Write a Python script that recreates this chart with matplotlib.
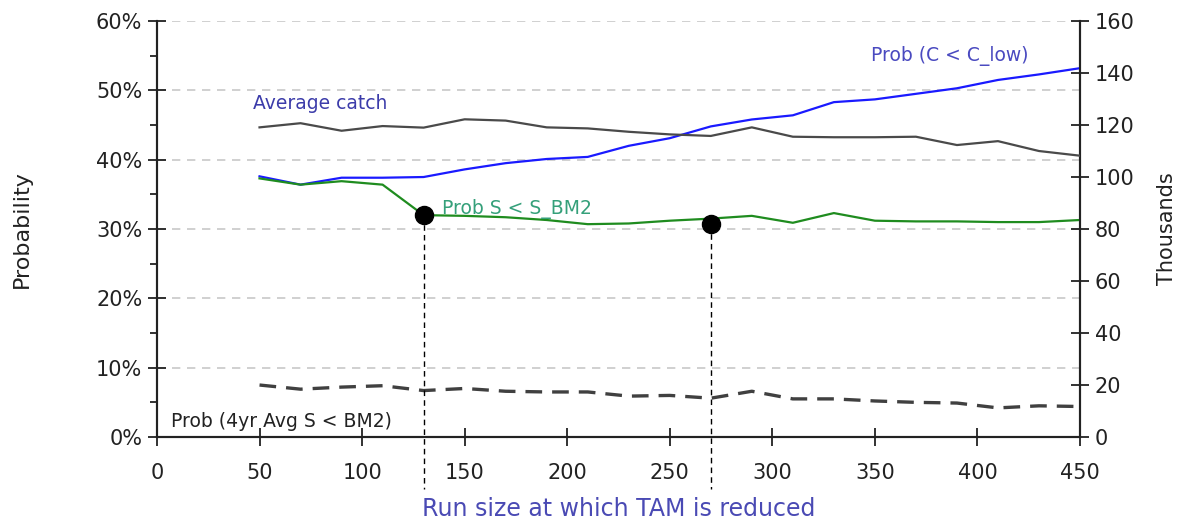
import numpy as np
import matplotlib
matplotlib.use("Agg")
import matplotlib.pyplot as plt
from matplotlib.ticker import PercentFormatter, MultipleLocator

plt.rcParams['font.family'] = ['DejaVu Sans']

# run size thresholds (x axis)
run_size = [50, 70, 90, 110, 130, 150, 170, 190, 210, 230, 250,
            270, 290, 310, 330, 350, 370, 390, 410, 430, 450]

# probabilities (left axis, fraction)
prob_c_low = [0.376, 0.364, 0.374, 0.374, 0.375, 0.386, 0.395, 0.401, 0.404, 0.420, 0.431,
              0.448, 0.458, 0.464, 0.483, 0.487, 0.495, 0.503, 0.515, 0.523, 0.532]
prob_s_bm2 = [0.373, 0.364, 0.369, 0.364, 0.320, 0.319, 0.317, 0.313, 0.307, 0.308, 0.312,
              0.315, 0.319, 0.309, 0.323, 0.312, 0.311, 0.311, 0.310, 0.310, 0.313]
prob_4yr = [0.075, 0.069, 0.072, 0.074, 0.067, 0.070, 0.066, 0.065, 0.065, 0.059, 0.060,
            0.056, 0.066, 0.055, 0.055, 0.052, 0.050, 0.049, 0.042, 0.045, 0.044]

# average catch (right axis, thousands)
avg_catch = [119.1, 120.7, 117.8, 119.6, 119.0, 122.2, 121.7, 119.1, 118.7, 117.4, 116.4,
             115.8, 119.1, 115.5, 115.3, 115.3, 115.5, 112.3, 113.8, 110.0, 108.2]

# highlighted points on the S < S_BM2 curve
mark_x = [130, 270]
mark_y = [0.320, 0.307]

fig = plt.figure(figsize=(11.81, 5.23), dpi=100)
ax = fig.add_axes([0.1329, 0.1644, 0.7816, 0.7954])
ax2 = ax.twinx()

ax.set_xlim(0, 450)
ax.set_ylim(0, 0.6)
ax2.set_ylim(0, 160)

ax.yaxis.set_major_locator(MultipleLocator(0.1))
ax.yaxis.set_minor_locator(MultipleLocator(0.05))
ax.yaxis.set_major_formatter(PercentFormatter(1.0, decimals=0))
ax.xaxis.set_major_locator(MultipleLocator(50))
ax2.yaxis.set_major_locator(MultipleLocator(20))

ax.grid(axis='y', which='major', linestyle=(0, (5, 4)), color='#c8c8c8', lw=1.2)
ax.set_axisbelow(True)

for a in (ax, ax2):
    a.spines['top'].set_visible(False)
    for s in ('left', 'right', 'bottom'):
        a.spines[s].set_linewidth(1.5)
        a.spines[s].set_color('#222222')

ax.tick_params(axis='both', which='major', direction='inout', length=13, width=1.3,
               labelsize=15, colors='#222222', pad=4)
ax.tick_params(axis='x', which='major', pad=12)
ax.tick_params(axis='y', which='minor', direction='out', length=5, width=1.3, colors='#222222')
ax2.tick_params(axis='y', which='major', direction='inout', length=13, width=1.3,
                labelsize=15, colors='#222222', pad=4)

ax.plot(run_size, prob_c_low, color='#1a1aff', lw=1.6, zorder=3)
ax.plot(run_size, prob_s_bm2, color='#1f8c1f', lw=1.6, zorder=3)
ax.plot(run_size, prob_4yr, color='#404040', lw=2.4, linestyle=(0, (5, 3)), zorder=3)
ax2.plot(run_size, avg_catch, color='#4a4a4a', lw=1.6, zorder=3)

# vertical guides from the marked points down below the axis
for mx, my in zip(mark_x, mark_y):
    ax.plot([mx, mx], [my, -0.075], color='black', lw=1.0, linestyle=(0, (4, 3)),
            clip_on=False, zorder=4)
ax.plot(mark_x, mark_y, 'o', color='black', markersize=13, zorder=5, clip_on=False)

ax.text(47, 0.467, 'Average catch', color='#3c3caa', fontsize=13.5, ha='left', va='bottom')
ax.text(139, 0.315, 'Prob S < S_BM2', color='#35a07a', fontsize=13.5, ha='left', va='bottom')
ax.text(348, 0.535, 'Prob (C < C_low)', color='#4a4ac0', fontsize=13.5, ha='left', va='bottom')
ax.text(7, 0.023, 'Prob (4yr Avg S < BM2)', color='#222222', fontsize=13.5, ha='left', va='center')

ax.set_xlabel('Run size at which TAM is reduced', fontsize=17, color='#4a4ab4', labelpad=10)
ax.set_ylabel('Probability', fontsize=16, color='#222222', labelpad=46)
ax2.set_ylabel('Thousands', fontsize=15, color='#222222', labelpad=16)

fig.savefig('out.png', dpi=100)
